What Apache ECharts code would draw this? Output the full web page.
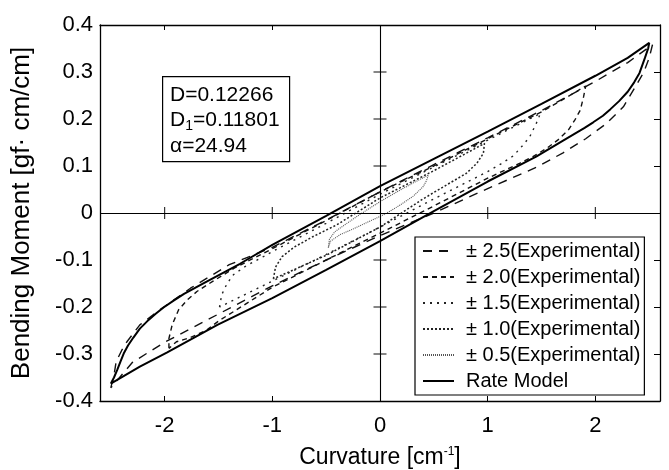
<!DOCTYPE html>
<html>
<head>
<meta charset="utf-8">
<script src="https://cdn.jsdelivr.net/npm/echarts@6/dist/echarts.min.js"></script>
<style>
html,body{margin:0;padding:0;background:#fff;}
#c{width:669px;height:470px;}
</style>
</head>
<body>
<div id="c"></div>
<script>
// ---- data ----
const xTickValues = [-2, -1, 0, 1, 2];
const crossTicksY = [-0.3, -0.2, -0.1, 0.1, 0.2, 0.3];   // ticks on the x=0 line
const crossTicksX = [-2, -1, 1, 2];                       // ticks on the y=0 line

const seriesNames = [
  '± 2.5(Experimental)',
  '± 2.0(Experimental)',
  '± 1.5(Experimental)',
  '± 1.0(Experimental)',
  '± 0.5(Experimental)',
  'Rate Model'
];

const exp25 = [
  [-2.50,-0.372],[-2.47,-0.345],[-2.45,-0.316],[-2.40,-0.293],[-2.35,-0.274],[-2.23,-0.238],
  [-2.07,-0.210],[-1.92,-0.186],[-1.76,-0.160],[-1.58,-0.135],[-1.40,-0.110],[-1.00,-0.073],
  [-0.50,-0.015],[0.00,0.045],[0.50,0.103],[1.00,0.160],[1.50,0.218],[2.00,0.280],[2.30,0.320],
  [2.53,0.358],
  [2.50,0.330],[2.45,0.300],[2.38,0.272],[2.26,0.226],[2.10,0.190],[1.91,0.158],[1.70,0.128],
  [1.45,0.097],[1.00,0.052],[0.50,0.000],[0.00,-0.048],[-0.50,-0.100],[-1.00,-0.155],
  [-1.50,-0.215],[-2.00,-0.275],[-2.30,-0.318],[-2.50,-0.372]
];
const exp20 = [
  [-1.96,-0.288],[-1.96,-0.267],[-1.93,-0.238],[-1.87,-0.206],[-1.79,-0.185],[-1.70,-0.167],
  [-1.55,-0.145],[-1.35,-0.117],[-1.00,-0.076],[-0.50,-0.016],[0.00,0.045],[0.50,0.100],
  [1.00,0.158],[1.50,0.215],[1.91,0.270],
  [1.89,0.247],[1.86,0.219],[1.81,0.198],[1.75,0.177],[1.65,0.155],[1.55,0.138],[1.42,0.120],
  [1.30,0.106],[1.00,0.074],[0.50,0.015],[0.00,-0.043],[-0.50,-0.100],[-1.00,-0.158],
  [-1.50,-0.230],[-1.61,-0.249],[-1.76,-0.265],[-1.89,-0.274],[-1.96,-0.288]
];
const exp15 = [
  [-1.49,-0.200],[-1.47,-0.174],[-1.42,-0.150],[-1.36,-0.131],[-1.24,-0.112],[-1.10,-0.095],
  [-1.00,-0.082],[-0.50,-0.022],[0.00,0.040],[0.50,0.098],[1.00,0.155],[1.49,0.212],
  [1.45,0.190],[1.39,0.162],[1.33,0.145],[1.24,0.122],[1.12,0.104],[1.00,0.088],
  [0.50,0.030],[0.00,-0.030],[-0.50,-0.088],[-1.00,-0.145],[-1.49,-0.200]
];
const exp10 = [
  [-0.99,-0.140],[-0.97,-0.115],[-0.91,-0.093],[-0.80,-0.073],[-0.62,-0.050],[-0.40,-0.025],
  [0.00,0.032],[0.50,0.090],[0.97,0.148],
  [0.96,0.127],[0.90,0.106],[0.80,0.084],[0.62,0.060],[0.40,0.030],[0.00,-0.030],
  [-0.50,-0.090],[-0.99,-0.140]
];
const exp05 = [
  [-0.48,-0.074],[-0.47,-0.056],[-0.42,-0.040],[-0.32,-0.024],[-0.18,-0.002],[0.00,0.024],
  [0.15,0.044],[0.30,0.063],[0.45,0.081],
  [0.43,0.068],[0.40,0.056],[0.31,0.036],[0.18,0.016],[0.05,-0.002],[-0.12,-0.020],
  [-0.25,-0.034],[-0.37,-0.046],[-0.46,-0.060],[-0.48,-0.074]
];
const rateModel = [
  [-2.50,-0.363],[-2.47,-0.350],[-2.44,-0.334],[-2.41,-0.316],[-2.38,-0.299],[-2.34,-0.282],
  [-2.29,-0.265],[-2.23,-0.246],[-2.16,-0.230],[-2.08,-0.214],[-2.01,-0.201],[-1.92,-0.187],
  [-1.82,-0.172],[-1.61,-0.146],[-1.30,-0.108],[-1.00,-0.068],[-0.50,-0.006],[0.00,0.057],
  [0.50,0.115],[1.00,0.173],[1.50,0.232],[2.00,0.292],[2.30,0.330],[2.50,0.362],
  [2.49,0.350],[2.46,0.330],[2.41,0.298],[2.36,0.278],[2.30,0.258],[2.22,0.238],[2.14,0.221],
  [2.07,0.207],[1.98,0.193],[1.90,0.181],[1.70,0.154],[1.45,0.120],[1.00,0.067],[0.50,0.004],
  [0.00,-0.060],[-0.50,-0.121],[-1.00,-0.181],[-1.51,-0.238],[-1.98,-0.297],[-2.23,-0.327],
  [-2.50,-0.363]
];

// ---- chart ----
const FONT = '"Liberation Sans", Arial, sans-serif';
const chart = echarts.init(document.getElementById('c'), null, {renderer: 'canvas'});

function lineSeries(name, data, type, width, color, z) {
  return {
    name: name, type: 'line', data: data, symbol: 'none', showSymbol: false,
    smooth: false, z: z, animation: false,
    lineStyle: {color: color, width: width, type: type},
    itemStyle: {color: color}
  };
}

const crossTickData = crossTicksY.map(v => [0, v]);
const crossTickDataV = crossTicksX.map(v => [v, 0]);

chart.setOption({
  animation: false,
  backgroundColor: '#fff',
  grid: {left: 100, right: 9, top: 25, bottom: 69, show: false, containLabel: false, outerBoundsMode: 'none'},
  xAxis: [{
    type: 'value', min: -2.6, max: 2.6, position: 'bottom',
    axisLine: {show: true, onZero: false, lineStyle: {color: '#000', width: 1.3}},
    axisTick: {show: true, inside: true, length: 5, customValues: xTickValues, lineStyle: {color: '#000'}},
    axisLabel: {show: true, customValues: xTickValues, margin: 14, color: '#000', fontSize: 22, fontFamily: FONT,
      formatter: v => String(v)},
    splitLine: {show: false},
    name: 'Curvature [cm{sup|-1}]', nameLocation: 'middle', nameGap: 45,
    nameTextStyle: {color: '#000', fontSize: 23, fontFamily: FONT,
      rich: {sup: {fontSize: 12, fontFamily: FONT, color: '#000', verticalAlign: 'top', lineHeight: 12, padding: [0, 0, 8, 0]}}}
  }, {
    type: 'value', min: -2.6, max: 2.6, position: 'top',
    axisLine: {show: true, onZero: false, lineStyle: {color: '#000', width: 1.3}},
    axisTick: {show: true, inside: true, length: 5, customValues: xTickValues, lineStyle: {color: '#000'}},
    axisLabel: {show: false}, splitLine: {show: false}
  }],
  yAxis: [{
    type: 'value', min: -0.4, max: 0.4, interval: 0.1, position: 'left',
    axisLine: {show: true, onZero: false, lineStyle: {color: '#000', width: 1.3}},
    axisTick: {show: false},
    axisLabel: {show: true, margin: 7, color: '#000', fontSize: 22, fontFamily: FONT,
      formatter: v => (Math.abs(v) < 1e-9 ? '0' : v.toFixed(1))},
    splitLine: {show: false},
    name: 'Bending Moment [gf· cm/cm]', nameLocation: 'middle', nameGap: 65,
    nameTextStyle: {color: '#000', fontSize: 26, fontFamily: FONT}
  }, {
    type: 'value', min: -0.4, max: 0.4, interval: 0.1, position: 'right',
    axisLine: {show: true, onZero: false, lineStyle: {color: '#000', width: 1.3}},
    axisTick: {show: true, inside: true, length: 6, lineStyle: {color: '#000'}},
    axisLabel: {show: false}, splitLine: {show: false}
  }],
  legend: {
    data: seriesNames,
    orient: 'vertical', left: 415, top: 237,
    padding: [4, 4, 4, 7], itemGap: 6, itemWidth: 31, itemHeight: 14,
    backgroundColor: '#fff', borderColor: '#000', borderWidth: 1.2, borderRadius: 0,
    itemStyle: {opacity: 0},
    textStyle: {color: '#000', fontSize: 20, fontFamily: FONT, padding: [0, 0, 0, 7], width: 186},
    selectedMode: false
  },
  graphic: [{
    type: 'rect', left: 162, top: 76, z: 100,
    shape: {width: 127, height: 85},
    style: {fill: '#fff', stroke: '#000', lineWidth: 1.2}
  }, {
    type: 'text', left: 170, top: 82, z: 101,
    style: {
      text: 'D=0.12266\nD{s|1}=0.11801\nα=24.94',
      fill: '#000', font: '21px ' + FONT, lineHeight: 25.5,
      rich: {s: {fontSize: 14, fontFamily: FONT, fill: '#000', verticalAlign: 'bottom', lineHeight: 19}}
    }
  }],
  series: [
    lineSeries(seriesNames[0], exp25, [9, 7], 1.4, '#111', 3),
    lineSeries(seriesNames[1], exp20, [5, 4], 1.4, '#111', 3),
    lineSeries(seriesNames[2], exp15, [2, 5], 1.4, '#222', 3),
    lineSeries(seriesNames[3], exp10, [2, 2], 1.5, '#222', 3),
    lineSeries(seriesNames[4], exp05, [1, 1], 1.1, '#555', 3),
    Object.assign(lineSeries(seriesNames[5], rateModel, 'solid', 2, '#000', 4), {
      markLine: {
        silent: true, symbol: 'none', animation: false, label: {show: false},
        lineStyle: {color: '#000', width: 1.1, type: 'solid'},
        data: [{xAxis: 0}, {yAxis: 0}]
      }
    }),
    {
      name: 'tickY', type: 'scatter', data: crossTickData, symbol: 'rect', symbolSize: [13, 1.2],
      itemStyle: {color: '#000'}, silent: true, z: 2, animation: false
    },
    {
      name: 'tickX', type: 'scatter', data: crossTickDataV, symbol: 'rect', symbolSize: [1.2, 12],
      itemStyle: {color: '#000'}, silent: true, z: 2, animation: false
    }
  ]
});
</script>
</body>
</html>
